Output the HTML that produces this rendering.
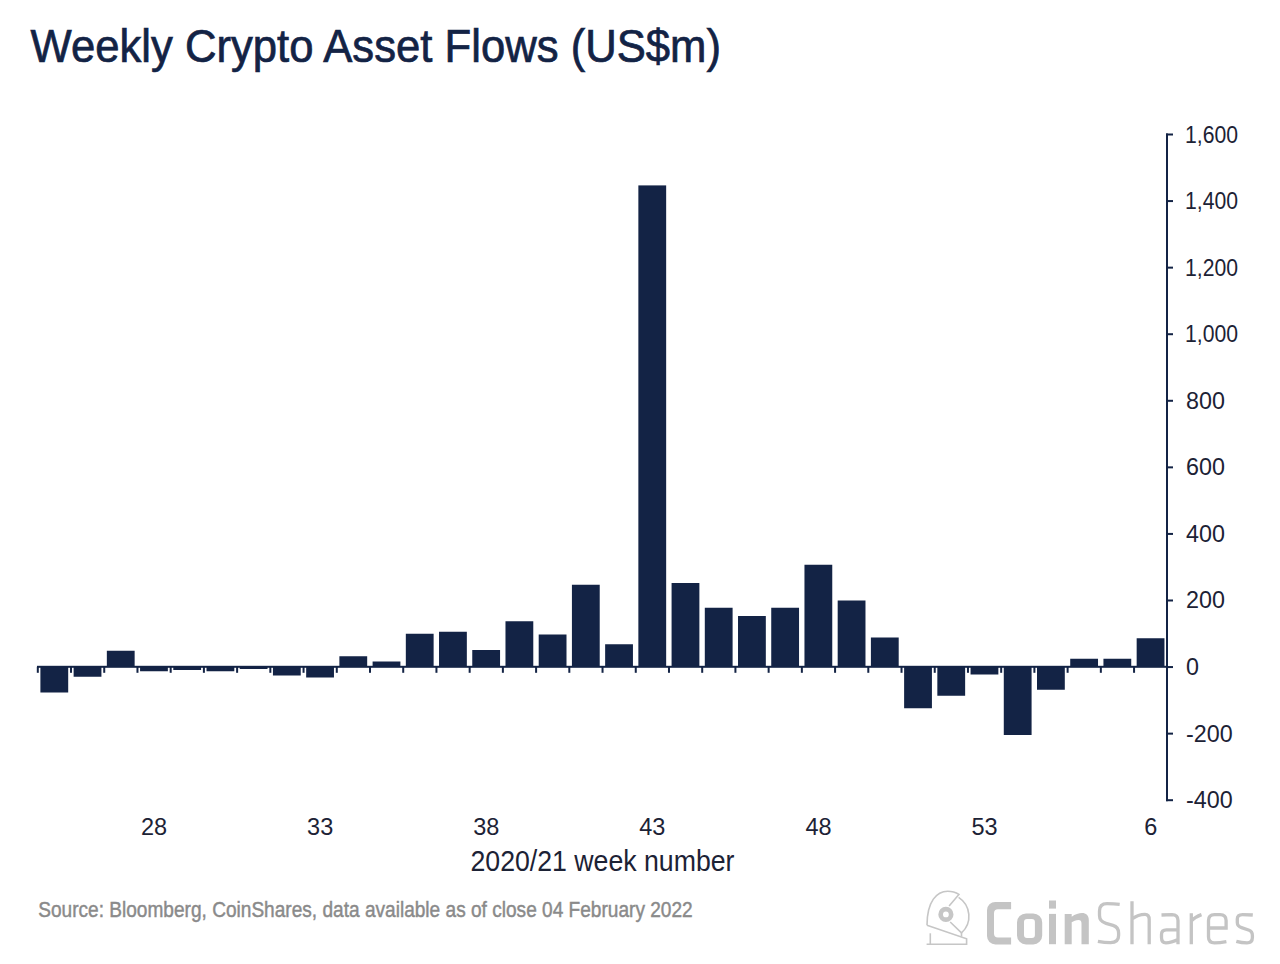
<!DOCTYPE html>
<html><head><meta charset="utf-8">
<style>
html,body{margin:0;padding:0;background:#fff;}
body{width:1280px;height:964px;overflow:hidden;position:relative;}
svg{position:absolute;left:0;top:0;}
text{font-family:"Liberation Sans",sans-serif;}
</style></head><body>
<svg width="1280" height="964" viewBox="0 0 1280 964">
<text x="30.5" y="62" font-size="45.8" fill="#132345" stroke="#132345" stroke-width="0.7" textLength="690.5" lengthAdjust="spacingAndGlyphs">Weekly Crypto Asset Flows (US$m)</text>
<g fill="#132345">
<rect x="40.40" y="666.80" width="27.8" height="25.70"/><rect x="73.62" y="666.80" width="27.8" height="9.95"/><rect x="106.84" y="650.75" width="27.8" height="16.05"/><rect x="140.06" y="666.80" width="27.8" height="4.45"/><rect x="173.28" y="666.80" width="27.8" height="3.20"/><rect x="206.50" y="666.80" width="27.8" height="4.45"/><rect x="239.72" y="666.80" width="27.8" height="2.20"/><rect x="272.94" y="666.80" width="27.8" height="8.70"/><rect x="306.16" y="666.80" width="27.8" height="10.70"/><rect x="339.38" y="656.25" width="27.8" height="10.55"/><rect x="372.60" y="661.50" width="27.8" height="5.30"/><rect x="405.82" y="633.75" width="27.8" height="33.05"/><rect x="439.04" y="631.75" width="27.8" height="35.05"/><rect x="472.26" y="650.00" width="27.8" height="16.80"/><rect x="505.48" y="621.25" width="27.8" height="45.55"/><rect x="538.70" y="634.50" width="27.8" height="32.30"/><rect x="571.92" y="584.75" width="27.8" height="82.05"/><rect x="605.14" y="644.25" width="27.8" height="22.55"/><rect x="638.36" y="185.40" width="27.8" height="481.40"/><rect x="671.58" y="583.00" width="27.8" height="83.80"/><rect x="704.80" y="607.75" width="27.8" height="59.05"/><rect x="738.02" y="616.00" width="27.8" height="50.80"/><rect x="771.24" y="607.75" width="27.8" height="59.05"/><rect x="804.46" y="564.75" width="27.8" height="102.05"/><rect x="837.68" y="600.50" width="27.8" height="66.30"/><rect x="870.90" y="637.50" width="27.8" height="29.30"/><rect x="904.12" y="666.80" width="27.8" height="41.45"/><rect x="937.34" y="666.80" width="27.8" height="28.95"/><rect x="970.56" y="666.80" width="27.8" height="7.70"/><rect x="1003.78" y="666.80" width="27.8" height="68.20"/><rect x="1037.00" y="666.80" width="27.8" height="22.95"/><rect x="1070.22" y="658.75" width="27.8" height="8.05"/><rect x="1103.44" y="658.75" width="27.8" height="8.05"/><rect x="1136.66" y="638.25" width="27.8" height="28.55"/>
<rect x="37" y="665.80" width="1131" height="2"/>
<rect x="36.80" y="666.80" width="2" height="6"/><rect x="70.02" y="666.80" width="2" height="6"/><rect x="103.24" y="666.80" width="2" height="6"/><rect x="136.46" y="666.80" width="2" height="6"/><rect x="169.68" y="666.80" width="2" height="6"/><rect x="202.90" y="666.80" width="2" height="6"/><rect x="236.12" y="666.80" width="2" height="6"/><rect x="269.34" y="666.80" width="2" height="6"/><rect x="302.56" y="666.80" width="2" height="6"/><rect x="335.78" y="666.80" width="2" height="6"/><rect x="369.00" y="666.80" width="2" height="6"/><rect x="402.22" y="666.80" width="2" height="6"/><rect x="435.44" y="666.80" width="2" height="6"/><rect x="468.66" y="666.80" width="2" height="6"/><rect x="501.88" y="666.80" width="2" height="6"/><rect x="535.10" y="666.80" width="2" height="6"/><rect x="568.32" y="666.80" width="2" height="6"/><rect x="601.54" y="666.80" width="2" height="6"/><rect x="634.76" y="666.80" width="2" height="6"/><rect x="667.98" y="666.80" width="2" height="6"/><rect x="701.20" y="666.80" width="2" height="6"/><rect x="734.42" y="666.80" width="2" height="6"/><rect x="767.64" y="666.80" width="2" height="6"/><rect x="800.86" y="666.80" width="2" height="6"/><rect x="834.08" y="666.80" width="2" height="6"/><rect x="867.30" y="666.80" width="2" height="6"/><rect x="900.52" y="666.80" width="2" height="6"/><rect x="933.74" y="666.80" width="2" height="6"/><rect x="966.96" y="666.80" width="2" height="6"/><rect x="1000.18" y="666.80" width="2" height="6"/><rect x="1033.40" y="666.80" width="2" height="6"/><rect x="1066.62" y="666.80" width="2" height="6"/><rect x="1099.84" y="666.80" width="2" height="6"/><rect x="1133.06" y="666.80" width="2" height="6"/>
<rect x="1166" y="133.5" width="2" height="667.7"/>
<rect x="1166" y="133.50" width="7" height="2"/><rect x="1166" y="200.07" width="7" height="2"/><rect x="1166" y="266.64" width="7" height="2"/><rect x="1166" y="333.21" width="7" height="2"/><rect x="1166" y="399.78" width="7" height="2"/><rect x="1166" y="466.35" width="7" height="2"/><rect x="1166" y="532.92" width="7" height="2"/><rect x="1166" y="599.49" width="7" height="2"/><rect x="1166" y="666.06" width="7" height="2"/><rect x="1166" y="732.63" width="7" height="2"/><rect x="1166" y="799.20" width="7" height="2"/>
</g>
<g fill="#1c2235" font-size="23.3">
<text x="1185" y="142.50" textLength="53" lengthAdjust="spacingAndGlyphs">1,600</text><text x="1185" y="209.07" textLength="53" lengthAdjust="spacingAndGlyphs">1,400</text><text x="1185" y="275.64" textLength="53" lengthAdjust="spacingAndGlyphs">1,200</text><text x="1185" y="342.21" textLength="53" lengthAdjust="spacingAndGlyphs">1,000</text><text x="1186" y="408.78">800</text><text x="1186" y="475.35">600</text><text x="1186" y="541.92">400</text><text x="1186" y="608.49">200</text><text x="1186" y="675.06">0</text><text x="1186" y="741.63">-200</text><text x="1186" y="808.20">-400</text>
</g>
<g fill="#1c2235" font-size="23.5">
<text x="154.07" y="834.5" text-anchor="middle">28</text><text x="320.17" y="834.5" text-anchor="middle">33</text><text x="486.27" y="834.5" text-anchor="middle">38</text><text x="652.37" y="834.5" text-anchor="middle">43</text><text x="818.47" y="834.5" text-anchor="middle">48</text><text x="984.57" y="834.5" text-anchor="middle">53</text><text x="1150.67" y="834.5" text-anchor="middle">6</text>
</g>
<text x="470.5" y="871.25" font-size="29" fill="#1c2235" textLength="264" lengthAdjust="spacingAndGlyphs">2020/21 week number</text>
<text x="38.2" y="917.2" font-size="21.8" fill="#8a8a8a" stroke="#8a8a8a" stroke-width="0.45" textLength="654.5" lengthAdjust="spacingAndGlyphs">Source: Bloomberg, CoinShares, data available as of close 04 February 2022</text>
<g fill="none" stroke="#c6c6c6" stroke-width="1.6" transform="translate(915,885)">
<path d="M12,40.3 C12,16 22,6.2 32.7,6.2 C37,6.2 41,7.5 43.9,9.4 L34.1,21"/>
<path d="M43.6,12.3 A22.5,22.5 0 0 1 46.5,47.9 L35.2,37"/>
<path d="M46.5,47.9 L46.5,51.6"/>
<path d="M12,40.3 L51.6,53.7 L51.6,59.2 L11.6,59.2"/>
<path d="M15.3,48.3 L15.3,59.2"/>
<circle cx="30.9" cy="29.4" r="5.25" stroke-width="4.7"/>
</g>
<g fill="#c4c4c4" fill-rule="evenodd">
<path d="M1011.1,901.9 H995.4 A8.4,8.4 0 0 0 987,910.3 V936 A8.4,8.4 0 0 0 995.4,944.4 H1011.1 V937.4 H998 A4,4 0 0 1 994,933.4 V913.2 A4,4 0 0 1 998,909.2 H1011.1 Z"/>
<path d="M1026,913.4 H1033.2 A9,9 0 0 1 1042.2,922.4 V935.4 A9,9 0 0 1 1033.2,944.4 H1026 A9,9 0 0 1 1017,935.4 V922.4 A9,9 0 0 1 1026,913.4 Z M1027,919 A3,3 0 0 0 1024,922 V935 A3,3 0 0 0 1027,938 H1031.9 A3,3 0 0 0 1034.9,935 V922 A3,3 0 0 0 1031.9,919 Z"/>
<rect x="1049" y="900.5" width="7" height="8.1"/>
<rect x="1049" y="913.9" width="7" height="30.3"/>
<path d="M1064.7,913.9 H1071.7 V916.7 C1075,914.5 1079,913.1 1082,913.1 C1086,913.1 1088.8,915.5 1088.8,920 V944.2 H1081.5 V923.5 C1081.5,921 1080.5,920 1078.5,920 C1076,920 1073.5,921.2 1071.7,922.3 V944.2 H1064.7 Z"/>
</g>
<g fill="none" stroke="#c4c4c4" stroke-width="3.3">
<path d="M1119.7,904.3 C1116,903.9 1111,903.7 1107,903.7 C1102,903.7 1099.5,906.5 1099.5,911 V915.5 C1099.5,920 1101.5,922 1106,923.3 L1113,925.3 C1117,926.5 1118.6,929 1118.6,933 V935.5 C1118.6,940.5 1116,942.6 1110.5,942.6 C1106,942.6 1101.5,942 1097.9,941.3"/>
<path d="M1132,901.3 V944.2 M1132,919 C1136,916 1141,914.3 1145,914.3 C1148,914.3 1149.2,916 1149.2,919.5 V944.2"/>
<path d="M1161.5,915 L1172,914.6 C1176,914.6 1178,916.5 1178,920.5 V944.2 M1178,929.8 H1166.5 C1163,929.8 1161.5,931.5 1161.5,934.5 V937.5 C1161.5,941 1163,942.8 1166,942.8 C1170,942.8 1174,941.5 1178,939.5"/>
<path d="M1191.3,913.2 V944.2 M1191.3,921 C1194,918 1197.5,916 1201.5,914.6"/>
<path d="M1208.5,928 H1226.1 V920.5 C1226.1,916.5 1224,914.6 1220,914.6 H1214.5 C1210.5,914.6 1208.5,916.5 1208.5,920.5 V937 C1208.5,941 1210.5,942.8 1214.5,942.8 C1218.5,942.8 1222.5,942.3 1226.4,941.6"/>
<path d="M1252.8,915 C1250,914.7 1246,914.6 1242.5,914.6 C1239,914.6 1237.3,916 1237.3,919 V922.5 C1237.3,925.5 1238.5,926.6 1241.5,927.6 L1248.5,930 C1251.5,931 1252.4,932.5 1252.4,935.5 V937.5 C1252.4,941 1251,942.8 1247,942.8 C1243,942.8 1239.5,942.2 1236.3,941.3"/>
</g>
</svg>
</body></html>
